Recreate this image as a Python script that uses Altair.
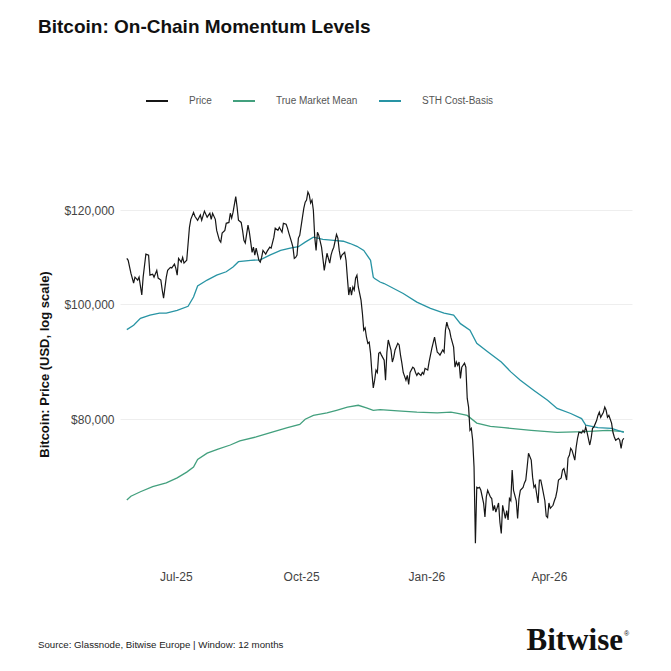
import altair as alt
import pandas as pd

# Daily series, day index counted from the first day of the 12-month window
START = pd.Timestamp("2025-05-26")

price_day = [
    0, 1, 3, 5, 6, 8, 9, 11, 12, 14, 16, 17, 19, 20, 22, 23, 25, 26, 27, 29,
    30, 32, 33, 35, 36, 37, 38, 40, 41, 42, 44, 46, 47, 49, 50, 52, 54, 55, 57, 59,
    61, 62, 63, 65, 66, 68, 69, 70, 72, 73, 75, 76, 77, 78, 80, 81, 82, 84, 85, 86,
    87, 89, 90, 91, 92, 93, 94, 95, 97, 98, 99, 100, 102, 103, 105, 106, 108, 109, 111, 112,
    114, 115, 117, 118, 119, 121, 122, 123, 124, 125, 126, 127, 129, 130, 131, 132, 133, 134, 135, 136,
    137, 138, 139, 140, 141, 143, 144, 145, 146, 147, 149, 150, 151, 152, 154, 155, 156, 157, 158, 160,
    161, 162, 163, 164, 165, 166, 167, 168, 169, 170, 172, 173, 174, 175, 176, 177, 178, 179, 180, 181,
    182, 183, 184, 185, 186, 187, 189, 190, 191, 192, 194, 195, 196, 197, 199, 200, 201, 202, 203, 205,
    206, 207, 208, 210, 211, 212, 213, 214, 216, 217, 218, 219, 221, 222, 223, 224, 226, 227, 228, 229,
    230, 232, 233, 234, 235, 236, 237, 238, 240, 241, 242, 243, 244, 245, 246, 248, 249, 250, 251, 252,
    253, 254, 255, 256, 257, 258, 259, 260, 262, 263, 264, 265, 267, 268, 269, 270, 271, 273, 274, 275,
    276, 278, 279, 280, 281, 282, 283, 284, 286, 287, 288, 289, 291, 292, 293, 294, 295, 297, 298, 299,
    300, 302, 303, 304, 305, 307, 308, 309, 310, 311, 313, 314, 315, 316, 317, 319, 320, 321, 323, 324,
    325, 326, 327, 329, 330, 331, 332, 334, 335, 336, 337, 338, 340, 341, 342, 343, 345, 346, 347, 348,
    350, 351, 352, 353, 354, 356, 357, 358, 359, 361, 362, 363, 364, 365,
]
price_usd = [
    109300, 108900, 106200, 104200, 105400, 104800, 105400, 101800, 105400, 110200,
    110000, 105800, 106000, 105400, 106800, 105200, 104800, 102800, 101200, 105400,
    106800, 107400, 107300, 108100, 107200, 105800, 109300, 108500, 109500, 108300,
    108900, 116100, 117900, 119500, 118600, 117700, 118900, 117700, 119800, 118400,
    119300, 117900, 119300, 117900, 115400, 113200, 112800, 114800, 115400, 117000,
    117200, 119300, 118200, 119500, 123200, 120700, 117700, 117200, 115400, 113200,
    112600, 116600, 115000, 112800, 110600, 111700, 110000, 111500, 108900, 108500,
    109500, 111000, 110200, 110800, 111700, 111500, 113900, 115900, 115400, 116100,
    115000, 117000, 116800, 115900, 114800, 112800, 111700, 109300, 109500, 110000,
    113700, 114300, 118400, 120500, 121900, 122400, 124300, 123600, 121700, 122400,
    120000, 113900, 111000, 115000, 114300, 111700, 109300, 106800, 108500, 110400,
    108300, 110000, 111000, 111700, 114500, 113700, 111000, 109300, 110000, 110600,
    108900, 105200, 101800, 103400, 101800, 103400, 102800, 105200, 105800, 103400,
    100800, 98300, 95100, 95500, 93800, 92700, 92900, 90900, 87500, 85000,
    86300, 88000, 87600, 90900, 91100, 90600, 89700, 86300, 91100, 93300,
    91500, 89400, 90200, 91500, 92700, 92400, 90600, 89200, 87600, 86300,
    87100, 85600, 87600, 88500, 88300, 87600, 87100, 87500, 87100, 87600,
    87300, 88300, 88000, 89400, 90600, 91800, 93800, 92400, 91100, 90900,
    90600, 91500, 91100, 95100, 96600, 95600, 95100, 93800, 92000, 88500,
    89400, 88800, 89400, 86600, 88500, 89200, 88500, 83300, 81900, 78300,
    78600, 76800, 72900, 62900, 70100, 70000, 70100, 69700, 68000, 66200,
    68800, 69700, 68800, 68600, 67000, 67700, 66800, 68000, 65500, 64100,
    67700, 66000, 67000, 65800, 68600, 68300, 72500, 69700, 68300, 66000,
    68600, 69700, 70100, 70700, 71100, 72900, 74900, 73900, 71500, 70100,
    70400, 68000, 71100, 71100, 70200, 68300, 66300, 66100, 68000, 67300,
    67700, 68300, 68800, 69700, 71100, 71400, 72500, 72700, 71100, 74200,
    74600, 75600, 75300, 73900, 75800, 77100, 78000, 77900, 78300, 78000,
    78800, 78000, 76100, 77100, 78600, 78800, 79800, 80600, 81100, 80300,
    81100, 81900, 81400, 80300, 80600, 79400, 78000, 77300, 76800, 77100,
    76800, 75600, 76800, 77100,
]

# Short-term holder cost basis
sth_day = [
    0, 5, 10, 17, 24, 29, 37, 45, 49, 52, 59, 66, 73, 78, 82, 91, 98, 105, 113, 120,
    126, 131, 137, 144, 152, 159, 164, 169, 174, 179, 181, 182, 186, 189, 203, 213, 223, 233, 240, 245,
    252, 257, 265, 275, 282, 289, 299, 309, 316, 326, 334, 337, 346, 356, 365,
]
sth_usd = [
    95200, 96000, 97300, 97900, 98300, 98300, 98800, 99600, 101400, 103600,
    104800, 105800, 106500, 107500, 108600, 108900, 109000, 110000, 111000, 111500,
    111800, 112800, 113900, 113400, 113200, 113000, 112500, 111900, 111000, 108900,
    105400, 105100, 104400, 104100, 102100, 100400, 99200, 98300, 97900, 96300,
    95100, 92700, 91200, 89400, 87700, 86300, 84600, 83000, 81700, 80900,
    80100, 79100, 78700, 78600, 78000,
]

# True market mean
tmm_day = [
    0, 3, 10, 19, 29, 37, 44, 49, 52, 59, 67, 76, 83, 95, 108, 118, 127, 131, 137, 147,
    154, 162, 170, 176, 181, 186, 199, 213, 228, 238, 243, 250, 257, 267, 277, 297, 316, 336, 353, 365,
]
tmm_usd = [
    68400, 68900, 69500, 70200, 70700, 71400, 72200, 72900, 74000, 74900,
    75500, 76100, 76700, 77300, 78100, 78700, 79200, 80000, 80600, 81000,
    81400, 81900, 82200, 81800, 81400, 81500, 81300, 81100, 81000, 81100,
    80900, 80600, 79400, 78900, 78700, 78300, 78000, 78100, 78300, 78100,
]

SERIES = ["Price", "True Market Mean", "STH Cost-Basis"]
COLORS = ["#161616", "#43a07e", "#2894a4"]
Y_TICKS = [80000, 100000, 120000]
X_TICKS = [(2025, 7), (2025, 10), (2026, 1), (2026, 4)]

TITLE = "Bitcoin: On-Chain Momentum Levels"
Y_TITLE = "Bitcoin: Price (USD, log scale)"
SOURCE = "Source: Glassnode, Bitwise Europe | Window: 12 months"
BRAND = "Bitwise"

FONT = "Liberation Sans"


def series_frame(days, values, name):
    dates = START + pd.to_timedelta(days, unit="D")
    return pd.DataFrame({"date": dates.strftime("%Y-%m-%d"), "usd": values, "series": name})


df = pd.concat(
    [
        series_frame(price_day, price_usd, "Price"),
        series_frame(tmm_day, tmm_usd, "True Market Mean"),
        series_frame(sth_day, sth_usd, "STH Cost-Basis"),
    ],
    ignore_index=True,
)

x_enc = alt.X(
    "date:T",
    scale=alt.Scale(
        type="utc",
        domain=[
            alt.DateTime(year=2025, month=5, date=21, utc=True),
            alt.DateTime(year=2026, month=6, date=1, utc=True),
        ],
    ),
    axis=alt.Axis(
        title=None,
        values=[alt.DateTime(year=y, month=m, date=1, utc=True) for y, m in X_TICKS],
        labelExpr="utcFormat(datum.value, '%b-%y')",
        grid=False,
        domain=False,
        ticks=False,
        labelPadding=12,
        labelFontSize=12,
        labelColor="#444444",
        labelFont=FONT,
    ),
)

y_enc = alt.Y(
    "usd:Q",
    scale=alt.Scale(type="log", domain=[61000, 130000]),
    axis=alt.Axis(
        values=Y_TICKS,
        format="$,.0f",
        title=Y_TITLE,
        titleFont=FONT,
        titleFontSize=13,
        titleFontWeight="bold",
        titleColor="#111111",
        titlePadding=12,
        labelPadding=6,
        labelFontSize=12,
        labelColor="#444444",
        labelFont=FONT,
        domain=False,
        ticks=False,
        grid=True,
        gridColor="#eeeeee",
        gridWidth=1,
    ),
)

color_enc = alt.Color(
    "series:N",
    scale=alt.Scale(domain=SERIES, range=COLORS),
    legend=alt.Legend(
        title=None,
        orient="none",
        legendX=25,
        legendY=-80,
        direction="horizontal",
        symbolType="stroke",
        symbolSize=484,
        symbolStrokeWidth=2,
        labelFont=FONT,
        labelFontSize=10,
        labelColor="#555555",
        labelOffset=20,
        columnPadding=17,
        padding=0,
    ),
)

base = alt.Chart(df).mark_line(strokeWidth=1.3).encode(x=x_enc, y=y_enc, color=color_enc)

# Averages underneath, price drawn on top
averages = base.transform_filter(alt.datum.series != "Price")
price = base.transform_filter(alt.datum.series == "Price").mark_line(strokeWidth=1.2)

source = alt.Chart(pd.DataFrame({"t": [SOURCE]})).mark_text(
    align="left", baseline="alphabetic", font=FONT, fontSize=9.7, color="#222222"
).encode(x=alt.value(-82), y=alt.value(479), text="t:N")

brand = alt.Chart(pd.DataFrame({"t": [BRAND]})).mark_text(
    align="right", baseline="alphabetic", font="Liberation Serif", fontWeight="bold",
    fontSize=31, color="#111111"
).encode(x=alt.value(503), y=alt.value(481), text="t:N")

brand_mark = alt.Chart(pd.DataFrame({"t": ["®"]})).mark_text(
    align="left", baseline="alphabetic", font=FONT, fontSize=7, color="#111111"
).encode(x=alt.value(504), y=alt.value(467), text="t:N")

chart = (
    alt.layer(averages, price, source, brand, brand_mark)
    .properties(
        width=512,
        height=390,
        autosize=alt.AutoSizeParams(type="none"),
        padding={"left": 120, "top": 169, "right": 39, "bottom": 112},
        title=alt.TitleParams(
            TITLE,
            anchor="start",
            frame="group",
            dx=-82,
            offset=37,
            baseline="alphabetic",
            font=FONT,
            fontSize=19,
            fontWeight="bold",
            color="#111111",
        ),
    )
    .configure(background="white")
    .configure_view(stroke="transparent", strokeWidth=0)
)

chart.save("out.html", embed_options={"renderer": "svg", "actions": False})
